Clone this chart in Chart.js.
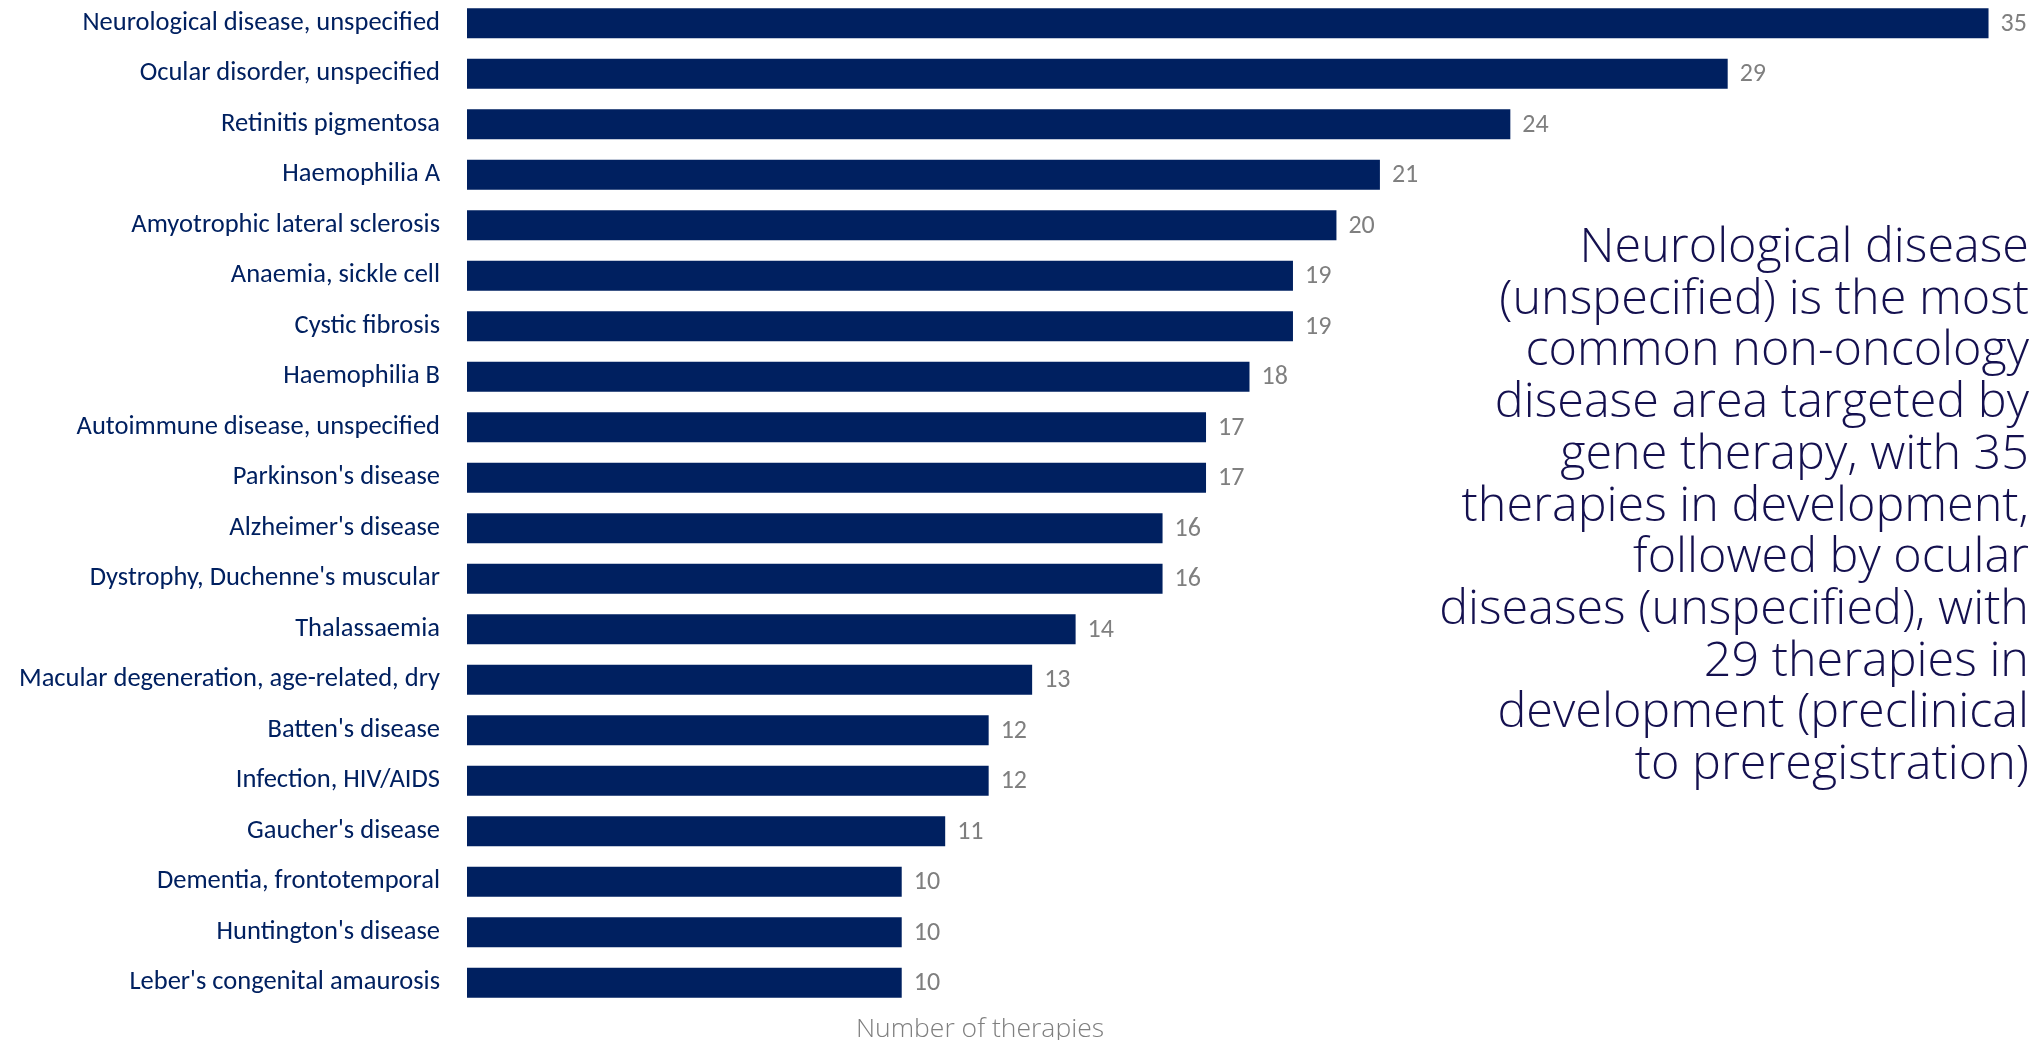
<!DOCTYPE html>
<html>
<head>
<meta charset="utf-8">
<script src="https://cdn.jsdelivr.net/npm/chart.js@4/dist/chart.umd.min.js"></script>
<style>
  html, body { margin: 0; padding: 0; background: #ffffff; overflow: hidden; }
  #wrap { position: relative; width: 2039px; height: 1042px; }
  #wrap canvas { position: absolute; left: 0; top: -2px; }
  #note {
    position: absolute; right: 10px; top: 218px;
    font-family: "Open Sans", "Noto Sans", sans-serif; font-weight: 300;
    font-size: 48.5px; line-height: 51.7px; color: #14104f;
    text-align: right; white-space: nowrap;
  }
</style>
</head>
<body>
<div id="wrap">
  <canvas id="chart" width="2039" height="1042"></canvas>
  <div id="note">Neurological disease<br>(unspecified) is the most<br>common non-oncology<br>disease area targeted by<br>gene therapy, with 35<br>therapies in development,<br>followed by ocular<br>diseases (unspecified), with<br>29 therapies in<br>development (preclinical<br>to preregistration)</div>
</div>
<script>
const diseases = [
  "Neurological disease, unspecified",
  "Ocular disorder, unspecified",
  "Retinitis pigmentosa",
  "Haemophilia A",
  "Amyotrophic lateral sclerosis",
  "Anaemia, sickle cell",
  "Cystic fibrosis",
  "Haemophilia B",
  "Autoimmune disease, unspecified",
  "Parkinson's disease",
  "Alzheimer's disease",
  "Dystrophy, Duchenne's muscular",
  "Thalassaemia",
  "Macular degeneration, age-related, dry",
  "Batten's disease",
  "Infection, HIV/AIDS",
  "Gaucher's disease",
  "Dementia, frontotemporal",
  "Huntington's disease",
  "Leber's congenital amaurosis"
];
const therapyCounts = [35, 29, 24, 21, 20, 19, 19, 18, 17, 17, 16, 16, 14, 13, 12, 12, 11, 10, 10, 10];
const axisTitle = "Number of therapies";

const labelFont = '"Carlito", "Liberation Sans Narrow", "Open Sans", sans-serif';

// value labels at the end of each bar, plus the x-axis caption
const barValues = {
  id: 'barValues',
  afterDatasetsDraw(chart) {
    const ctx = chart.ctx;
    const meta = chart.getDatasetMeta(0);
    ctx.save();
    ctx.fillStyle = '#7f7f7f';
    ctx.font = '26px ' + labelFont;
    ctx.textAlign = 'left';
    ctx.textBaseline = 'middle';
    meta.data.forEach((bar, i) => {
      ctx.fillText(String(therapyCounts[i]), bar.x + 12, bar.y + 1);
    });
    const area = chart.chartArea;
    ctx.font = '300 26.5px "Open Sans", sans-serif';
    ctx.textAlign = 'center';
    ctx.fillStyle = '#7f7f7f';
    ctx.fillText(axisTitle, chart.scales.x.getPixelForValue(11.8), area.bottom + 21);
    ctx.restore();
  }
};

new Chart(document.getElementById('chart'), {
  type: 'bar',
  data: {
    labels: diseases,
    datasets: [{
      data: therapyCounts,
      backgroundColor: '#002060',
      borderWidth: 0,
      categoryPercentage: 1,
      barPercentage: 0.594
    }]
  },
  options: {
    indexAxis: 'y',
    responsive: false,
    animation: false,
    layout: { autoPadding: false, padding: { top: 0, bottom: 32, left: 0, right: 7 } },
    plugins: { legend: { display: false }, tooltip: { enabled: false } },
    scales: {
      x: { display: false, min: 0, max: 36 },
      y: {
        afterFit(scale) {
          scale.width = 467;
          scale.paddingTop = 0;
          scale.paddingBottom = 0;
        },
        grid: { display: false, drawTicks: false },
        border: { display: false },
        ticks: {
          color: '#002060',
          padding: 27,
          font: { family: labelFont, size: 26.5 }
        }
      }
    }
  },
  plugins: [barValues]
});
</script>
</body>
</html>
